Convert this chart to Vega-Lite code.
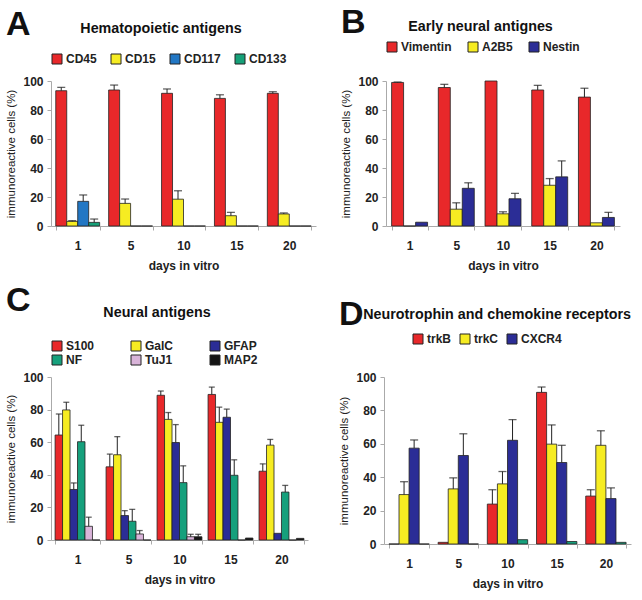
{
  "$schema": "https://vega.github.io/schema/vega-lite/v6.json",
  "background": "white",
  "padding": 5,
  "datasets": {
    "A": [
      {"day": 1, "s": "CD45", "v": 93.3, "hi": 95.6}, {"day": 1, "s": "CD15", "v": 3.2, "hi": 3.7}, {"day": 1, "s": "CD117", "v": 17, "hi": 21.4}, {"day": 1, "s": "CD133", "v": 2.5, "hi": 4.8},
      {"day": 5, "s": "CD45", "v": 93.8, "hi": 97.2}, {"day": 5, "s": "CD15", "v": 15.6, "hi": 18.6}, {"day": 5, "s": "CD117", "v": 0, "hi": 0}, {"day": 5, "s": "CD133", "v": 0, "hi": 0},
      {"day": 10, "s": "CD45", "v": 91.5, "hi": 94.5}, {"day": 10, "s": "CD15", "v": 18.5, "hi": 24.3}, {"day": 10, "s": "CD117", "v": 0, "hi": 0}, {"day": 10, "s": "CD133", "v": 0, "hi": 0},
      {"day": 15, "s": "CD45", "v": 88, "hi": 90.5}, {"day": 15, "s": "CD15", "v": 7.1, "hi": 9.4}, {"day": 15, "s": "CD117", "v": 0, "hi": 0}, {"day": 15, "s": "CD133", "v": 0, "hi": 0},
      {"day": 20, "s": "CD45", "v": 91.5, "hi": 92.6}, {"day": 20, "s": "CD15", "v": 8.3, "hi": 9}, {"day": 20, "s": "CD117", "v": 0, "hi": 0}, {"day": 20, "s": "CD133", "v": 0, "hi": 0}
    ],
    "B": [
      {"day": 1, "s": "Vimentin", "v": 99, "hi": 99.3}, {"day": 1, "s": "A2B5", "v": 0, "hi": 0}, {"day": 1, "s": "Nestin", "v": 2.6, "hi": 2.6},
      {"day": 5, "s": "Vimentin", "v": 95.5, "hi": 97.7}, {"day": 5, "s": "A2B5", "v": 11.6, "hi": 16}, {"day": 5, "s": "Nestin", "v": 26, "hi": 29.8},
      {"day": 10, "s": "Vimentin", "v": 100, "hi": 100}, {"day": 10, "s": "A2B5", "v": 8.4, "hi": 9.8}, {"day": 10, "s": "Nestin", "v": 18.8, "hi": 22.5},
      {"day": 15, "s": "Vimentin", "v": 93.8, "hi": 97}, {"day": 15, "s": "A2B5", "v": 28.1, "hi": 32.7}, {"day": 15, "s": "Nestin", "v": 33.9, "hi": 44.9},
      {"day": 20, "s": "Vimentin", "v": 88.9, "hi": 95}, {"day": 20, "s": "A2B5", "v": 2.2, "hi": 2.2}, {"day": 20, "s": "Nestin", "v": 5.9, "hi": 9.4}
    ],
    "C": [
      {"day": 1, "s": "S100", "v": 64.4, "hi": 77.3}, {"day": 1, "s": "GalC", "v": 79.8, "hi": 84.5}, {"day": 1, "s": "GFAP", "v": 31, "hi": 35}, {"day": 1, "s": "NF", "v": 60.3, "hi": 70.4}, {"day": 1, "s": "TuJ1", "v": 8.4, "hi": 14}, {"day": 1, "s": "MAP2", "v": 0, "hi": 0},
      {"day": 5, "s": "S100", "v": 44.9, "hi": 52.7}, {"day": 5, "s": "GalC", "v": 52.3, "hi": 63.4}, {"day": 5, "s": "GFAP", "v": 15, "hi": 18}, {"day": 5, "s": "NF", "v": 11.5, "hi": 18.8}, {"day": 5, "s": "TuJ1", "v": 3.7, "hi": 5.8}, {"day": 5, "s": "MAP2", "v": 0, "hi": 0},
      {"day": 10, "s": "S100", "v": 88.8, "hi": 91.4}, {"day": 10, "s": "GalC", "v": 74, "hi": 78.2}, {"day": 10, "s": "GFAP", "v": 59.8, "hi": 70.8}, {"day": 10, "s": "NF", "v": 35.2, "hi": 45.5}, {"day": 10, "s": "TuJ1", "v": 2, "hi": 3.5}, {"day": 10, "s": "MAP2", "v": 2, "hi": 3.5},
      {"day": 15, "s": "S100", "v": 89.3, "hi": 93.8}, {"day": 15, "s": "GalC", "v": 72.2, "hi": 81.5}, {"day": 15, "s": "GFAP", "v": 75.3, "hi": 80.3}, {"day": 15, "s": "NF", "v": 39.7, "hi": 49.2}, {"day": 15, "s": "TuJ1", "v": 0, "hi": 0}, {"day": 15, "s": "MAP2", "v": 1.2, "hi": 1.2},
      {"day": 20, "s": "S100", "v": 42.2, "hi": 46.7}, {"day": 20, "s": "GalC", "v": 58.2, "hi": 61.7}, {"day": 20, "s": "GFAP", "v": 4.1, "hi": 4.1}, {"day": 20, "s": "NF", "v": 29.4, "hi": 33.5}, {"day": 20, "s": "TuJ1", "v": 0, "hi": 0}, {"day": 20, "s": "MAP2", "v": 1, "hi": 1}
    ],
    "D": [
      {"day": 1, "s": "trkB", "v": 0, "hi": 0}, {"day": 1, "s": "trkC", "v": 29.6, "hi": 37.3}, {"day": 1, "s": "CXCR4", "v": 57.4, "hi": 62.3}, {"day": 1, "s": "other", "v": 0, "hi": 0},
      {"day": 5, "s": "trkB", "v": 1, "hi": 1}, {"day": 5, "s": "trkC", "v": 33, "hi": 39.6}, {"day": 5, "s": "CXCR4", "v": 53, "hi": 66}, {"day": 5, "s": "other", "v": 0, "hi": 0},
      {"day": 10, "s": "trkB", "v": 23.9, "hi": 32.5}, {"day": 10, "s": "trkC", "v": 36, "hi": 43.4}, {"day": 10, "s": "CXCR4", "v": 62.1, "hi": 74.5}, {"day": 10, "s": "other", "v": 2.6, "hi": 2.6},
      {"day": 15, "s": "trkB", "v": 90.8, "hi": 94}, {"day": 15, "s": "trkC", "v": 59.8, "hi": 71.3}, {"day": 15, "s": "CXCR4", "v": 48.8, "hi": 59.1}, {"day": 15, "s": "other", "v": 1.5, "hi": 1.5},
      {"day": 20, "s": "trkB", "v": 28.7, "hi": 32.5}, {"day": 20, "s": "trkC", "v": 59.1, "hi": 67.8}, {"day": 20, "s": "CXCR4", "v": 27.2, "hi": 33.6}, {"day": 20, "s": "other", "v": 1, "hi": 1}
    ]
  },
  "vconcat": [
    {
      "hconcat": [
        {
          "title": {"text": "A", "anchor": "start", "frame": "bounds", "fontSize": 34, "offset": -20},
          "resolve": {"scale": {"color": "independent"}, "legend": {"color": "independent"}},
          "vconcat": [
            {
              "title": {"text": "Hematopoietic antigens", "fontSize": 14.3, "anchor": "middle", "offset": 17},
              "resolve": {"scale": {"color": "independent"}, "legend": {"color": "independent"}},
              "vconcat": [
                {
                  "width": 265, "height": 145,
                  "data": {"name": "A"},
                  "encoding": {
                    "x": {"field": "day", "type": "ordinal", "title": "days in vitro", "scale": {"paddingInner": 0.17, "paddingOuter": 0.09}},
                    "xOffset": {"field": "s", "type": "nominal", "scale": {"domain": ["CD45", "CD15", "CD117", "CD133"]}},
                    "y": {"field": "v", "type": "quantitative", "title": "immunoreactive cells (%)", "scale": {"domain": [0, 100]}}
                  },
                  "layer": [
                    {"mark": {"type": "bar", "stroke": "#222", "strokeWidth": 0.8},
                     "encoding": {"color": {"field": "s", "type": "nominal", "scale": {"domain": ["CD45", "CD15", "CD117", "CD133"], "range": ["#e8282a", "#f6ec22", "#2277c4", "#16a078"]}, "legend": {"title": null, "columnPadding": 12, "offset": 15}}}},
                    {"transform": [{"filter": "datum.hi > datum.v"}], "mark": {"type": "rule", "color": "#222", "strokeWidth": 1}, "encoding": {"y2": {"field": "hi"}}},
                    {"transform": [{"filter": "datum.hi > datum.v"}], "mark": {"type": "tick", "color": "#222", "thickness": 1.3, "size": 8}, "encoding": {"y": {"field": "hi", "type": "quantitative"}}}
                  ]
                }
              ]
            }
          ]
        },
        {
          "title": {"text": "B", "anchor": "start", "frame": "bounds", "fontSize": 34, "offset": -20},
          "resolve": {"scale": {"color": "independent"}, "legend": {"color": "independent"}},
          "vconcat": [
            {
              "title": {"text": "Early neural antignes", "fontSize": 14.3, "anchor": "middle", "offset": 7},
              "resolve": {"scale": {"color": "independent"}, "legend": {"color": "independent"}},
              "vconcat": [
                {
                  "width": 234, "height": 145,
                  "data": {"name": "B"},
                  "encoding": {
                    "x": {"field": "day", "type": "ordinal", "title": "days in vitro", "scale": {"paddingInner": 0.23, "paddingOuter": 0.12}},
                    "xOffset": {"field": "s", "type": "nominal", "scale": {"domain": ["Vimentin", "A2B5", "Nestin"]}},
                    "y": {"field": "v", "type": "quantitative", "title": "immunoreactive cells (%)", "scale": {"domain": [0, 100]}}
                  },
                  "layer": [
                    {"mark": {"type": "bar", "stroke": "#222", "strokeWidth": 0.8},
                     "encoding": {"color": {"field": "s", "type": "nominal", "scale": {"domain": ["Vimentin", "A2B5", "Nestin"], "range": ["#e8282a", "#f6ec22", "#2b2d96"]}, "legend": {"title": null, "columnPadding": 14, "offset": 27}}}},
                    {"transform": [{"filter": "datum.hi > datum.v"}], "mark": {"type": "rule", "color": "#222", "strokeWidth": 1}, "encoding": {"y2": {"field": "hi"}}},
                    {"transform": [{"filter": "datum.hi > datum.v"}], "mark": {"type": "tick", "color": "#222", "thickness": 1.3, "size": 8}, "encoding": {"y": {"field": "hi", "type": "quantitative"}}}
                  ]
                }
              ]
            }
          ]
        }
      ],
      "spacing": 24,
      "resolve": {"scale": {"x": "independent", "xOffset": "independent", "y": "independent", "color": "independent"}, "legend": {"color": "independent"}}
    },
    {
      "hconcat": [
        {
          "title": {"text": "C", "anchor": "start", "frame": "bounds", "fontSize": 34, "offset": -12},
          "resolve": {"scale": {"color": "independent"}, "legend": {"color": "independent"}},
          "vconcat": [
            {
              "title": {"text": "Neural antigens", "fontSize": 14.3, "anchor": "middle", "offset": 20},
              "resolve": {"scale": {"color": "independent"}, "legend": {"color": "independent"}},
              "vconcat": [
                {
                  "width": 257, "height": 163,
                  "data": {"name": "C"},
                  "encoding": {
                    "x": {"field": "day", "type": "ordinal", "title": "days in vitro", "scale": {"paddingInner": 0.12, "paddingOuter": 0.08}},
                    "xOffset": {"field": "s", "type": "nominal", "scale": {"domain": ["S100", "GalC", "GFAP", "NF", "TuJ1", "MAP2"]}},
                    "y": {"field": "v", "type": "quantitative", "title": "immunoreactive cells (%)", "scale": {"domain": [0, 100]}}
                  },
                  "layer": [
                    {"mark": {"type": "bar", "stroke": "#222", "strokeWidth": 0.8},
                     "encoding": {"color": {"field": "s", "type": "nominal", "scale": {"domain": ["S100", "GalC", "GFAP", "NF", "TuJ1", "MAP2"], "range": ["#e8282a", "#f6ec22", "#2b2d96", "#16a07c", "#d9b4d9", "#151515"]}, "legend": {"title": null, "columns": 3, "columnPadding": 34, "rowPadding": 0, "offset": 10}}}},
                    {"transform": [{"filter": "datum.hi > datum.v"}], "mark": {"type": "rule", "color": "#222", "strokeWidth": 1}, "encoding": {"y2": {"field": "hi"}}},
                    {"transform": [{"filter": "datum.hi > datum.v"}], "mark": {"type": "tick", "color": "#222", "thickness": 1.3, "size": 6}, "encoding": {"y": {"field": "hi", "type": "quantitative"}}}
                  ]
                }
              ]
            }
          ]
        },
        {
          "title": {"text": "D", "anchor": "start", "frame": "bounds", "fontSize": 34, "offset": -27},
          "resolve": {"scale": {"color": "independent"}, "legend": {"color": "independent"}},
          "vconcat": [
            {
              "title": {"text": "Neurotrophin and chemokine receptors", "fontSize": 14.3, "anchor": "end", "offset": -17},
              "resolve": {"scale": {"color": "independent"}, "legend": {"color": "independent"}},
              "vconcat": [
                {
                  "width": 247, "height": 167,
                  "data": {"name": "D"},
                  "encoding": {
                    "x": {"field": "day", "type": "ordinal", "title": "days in vitro", "scale": {"paddingInner": 0.18, "paddingOuter": 0.1}},
                    "xOffset": {"field": "s", "type": "nominal", "scale": {"domain": ["trkB", "trkC", "CXCR4", "other"]}},
                    "y": {"field": "v", "type": "quantitative", "title": "immunoreactive cells (%)", "scale": {"domain": [0, 100]}}
                  },
                  "layer": [
                    {"mark": {"type": "bar", "stroke": "#222", "strokeWidth": 0.8},
                     "encoding": {"color": {"field": "s", "type": "nominal", "scale": {"domain": ["trkB", "trkC", "CXCR4", "other"], "range": ["#e8282a", "#f6ec22", "#2b2d96", "#16a07c"]}, "legend": {"title": null, "values": ["trkB", "trkC", "CXCR4"], "columnPadding": 6, "padding": 28, "offset": 3}}}},
                    {"transform": [{"filter": "datum.hi > datum.v"}], "mark": {"type": "rule", "color": "#222", "strokeWidth": 1}, "encoding": {"y2": {"field": "hi"}}},
                    {"transform": [{"filter": "datum.hi > datum.v"}], "mark": {"type": "tick", "color": "#222", "thickness": 1.3, "size": 8}, "encoding": {"y": {"field": "hi", "type": "quantitative"}}}
                  ]
                }
              ]
            }
          ]
        }
      ],
      "spacing": 30,
      "resolve": {"scale": {"x": "independent", "xOffset": "independent", "y": "independent", "color": "independent"}, "legend": {"color": "independent"}}
    }
  ],
  "spacing": 12,
  "resolve": {"scale": {"x": "independent", "xOffset": "independent", "y": "independent", "color": "independent"}, "legend": {"color": "independent"}},
  "config": {
    "font": "Liberation Sans",
    "view": {"stroke": null},
    "title": {"font": "Liberation Sans", "fontWeight": "bold", "color": "#111"},
    "axis": {"grid": false, "labelFont": "Liberation Sans", "labelFontWeight": "bold", "labelFontSize": 12, "labelColor": "#222", "titleFont": "Liberation Sans", "titleFontSize": 11.5, "titleColor": "#222", "domainColor": "#aaa", "tickColor": "#aaa"},
    "axisY": {"values": [0, 10, 20, 30, 40, 50, 60, 70, 80, 90, 100], "tickSize": 4, "labelPadding": 4, "titleFontWeight": "normal", "titlePadding": 6},
    "axisX": {"labelAngle": 0, "tickBand": "extent", "tickSize": 4, "labelPadding": 10, "titleFontWeight": "bold", "titleFontSize": 12, "titlePadding": 9},
    "legend": {"orient": "top", "direction": "horizontal", "symbolType": "square", "symbolSize": 100, "symbolStrokeColor": "#222", "symbolStrokeWidth": 1, "symbolOpacity": 1, "labelFont": "Liberation Sans", "labelFontWeight": "bold", "labelFontSize": 12, "labelColor": "#222", "labelOffset": 3}
  }
}
